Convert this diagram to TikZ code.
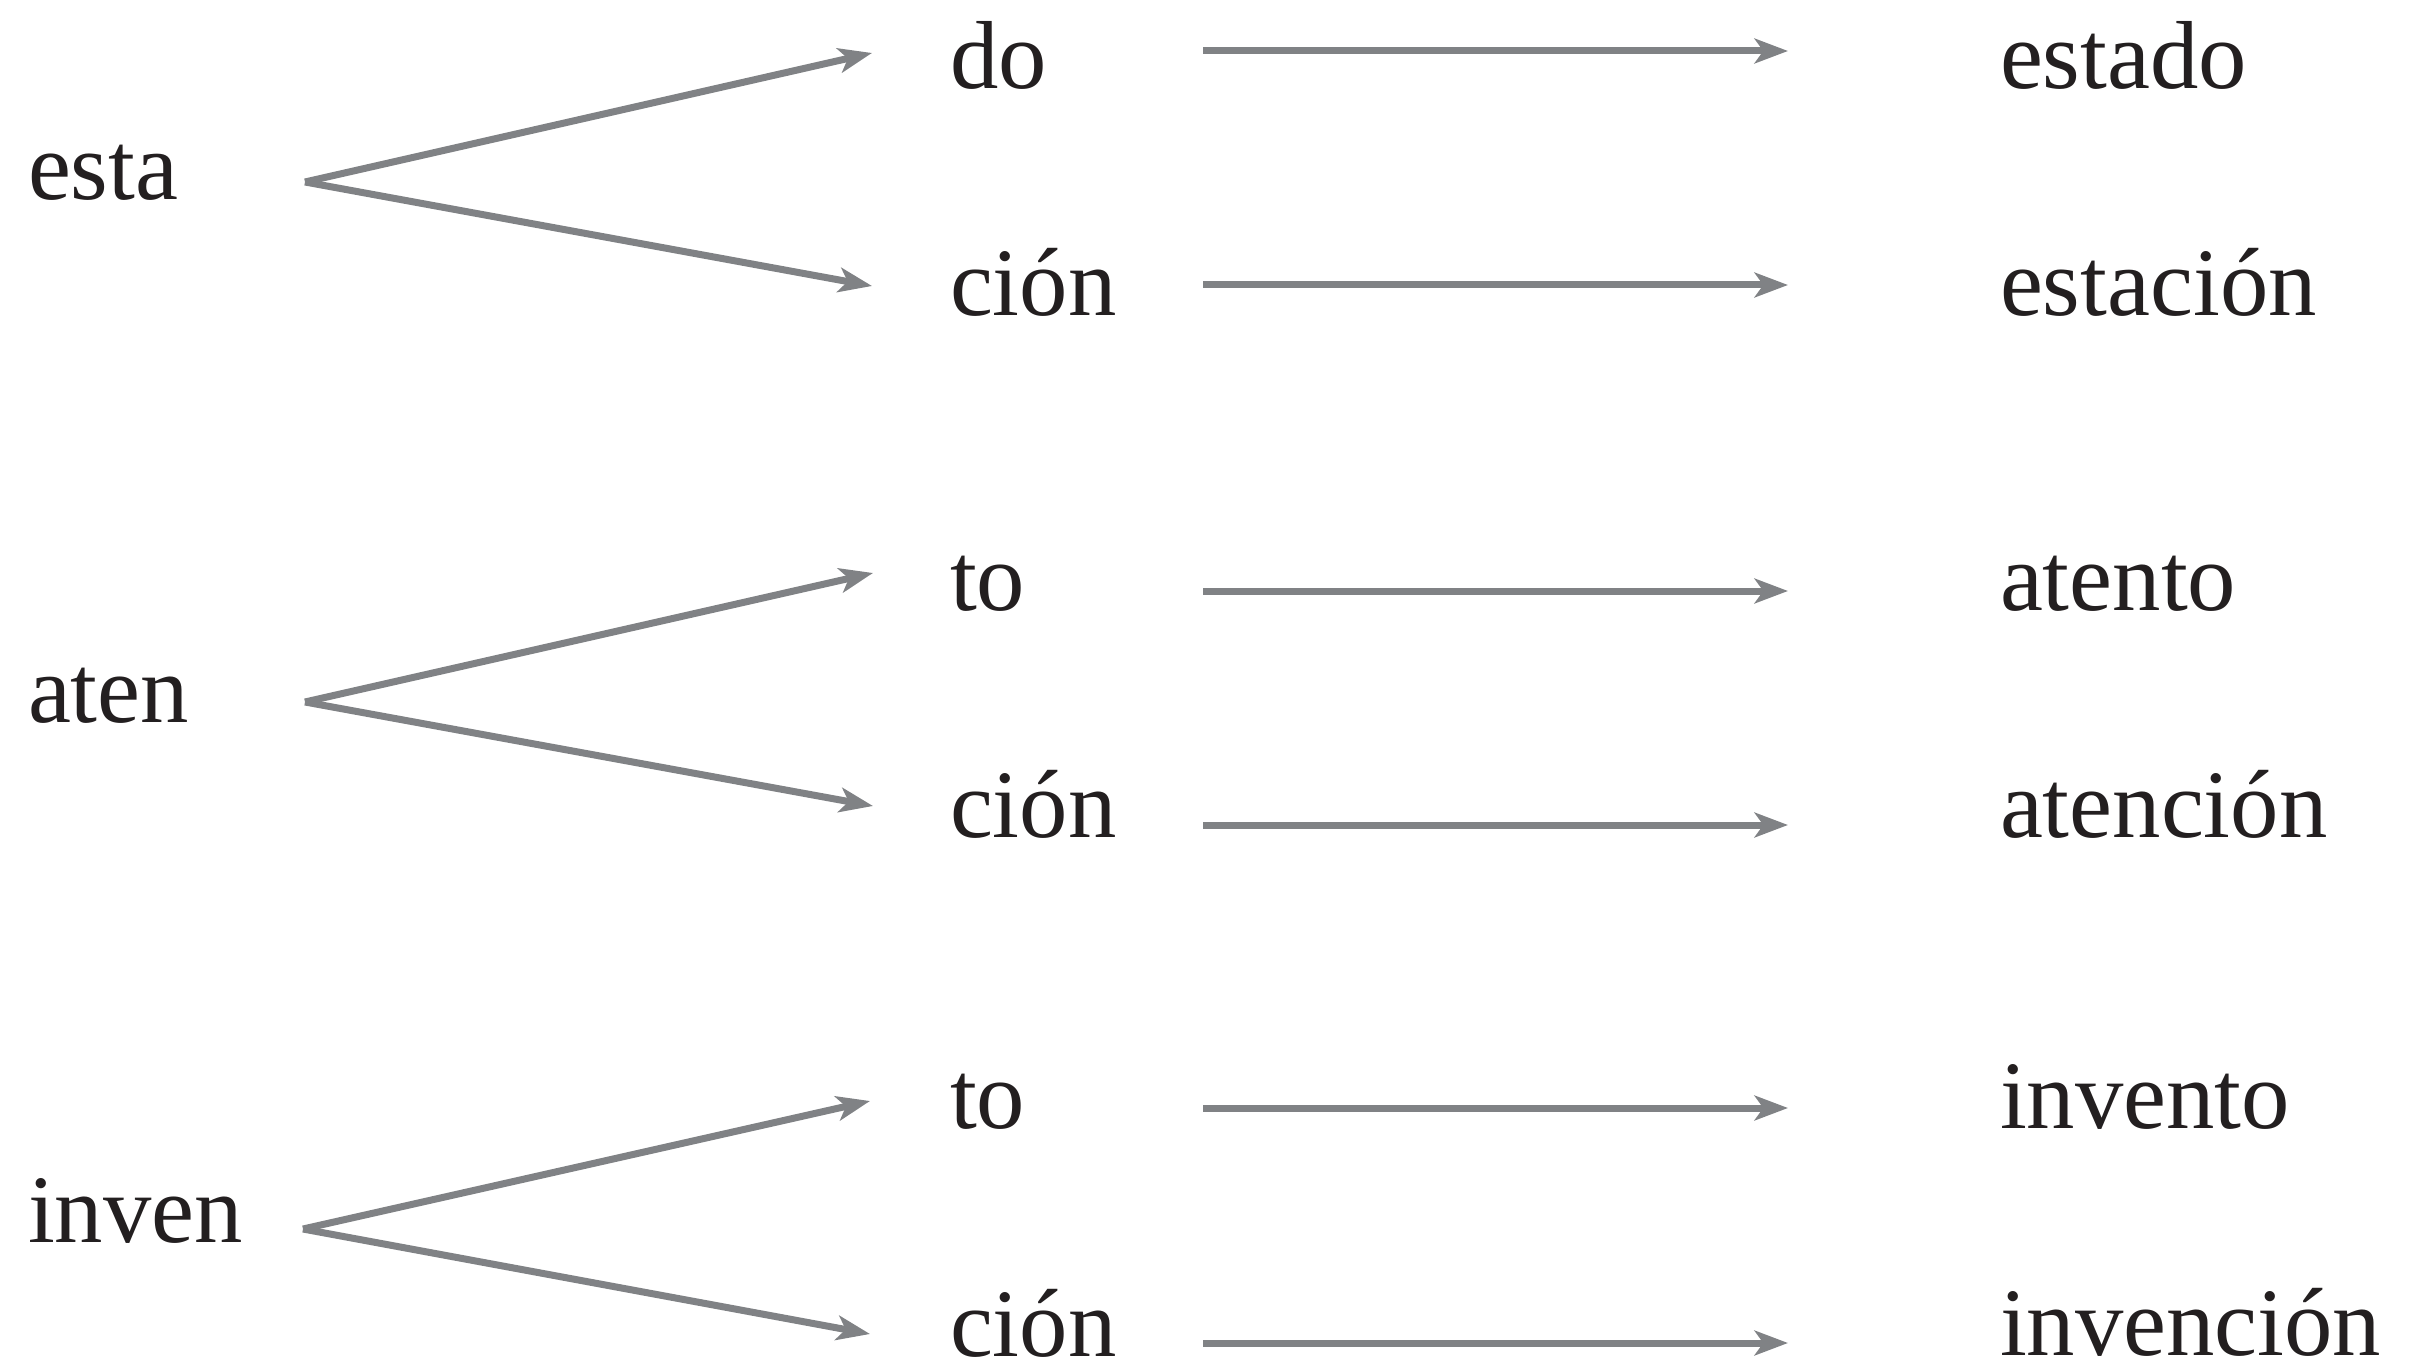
\documentclass[tikz,border=0pt]{standalone}
\usepackage{fontspec}
\setmainfont{Liberation Serif}
\usetikzlibrary{arrows.meta}
\definecolor{arrowgrey}{HTML}{808285}
\definecolor{inkblack}{HTML}{231F20}
\tikzset{
  word/.style={anchor=base west, inner sep=0pt, outer sep=0pt, text=inkblack,
    font=\fontsize{29}{34}\selectfont},
  conn/.style={draw=arrowgrey, line width=2.1pt,
    -{Stealth[length=10pt, width=7.4pt, inset=2.6pt]}}
}
\begin{document}
\begin{tikzpicture}[x=0.3pt, y=-0.3pt]
\useasboundingbox (0,0) rectangle (2416,1367);
% left stems
\node[word] (esta) at (28,200) {esta};
\node[word] (aten) at (28,722) {aten};
\node[word] (inven) at (28,1242) {inven};
% middle suffixes
\node[word] (m1) at (950,89) {do};
\node[word] (m2) at (950,316) {ción};
\node[word] (m3) at (950,610) {to};
\node[word] (m4) at (950,837) {ción};
\node[word] (m5) at (950,1128) {to};
\node[word] (m6) at (950,1356) {ción};
% right words
\node[word] (r1) at (2000,89) {estado};
\node[word] (r2) at (2000,316) {estación};
\node[word] (r3) at (2000,610) {atento};
\node[word] (r4) at (2000,837) {atención};
\node[word] (r5) at (2000,1128) {invento};
\node[word] (r6) at (2000,1355) {invención};
% connector end points
\coordinate (a1) at (305,182);
\coordinate (a2) at (305,702);
\coordinate (a3) at (303,1229);
\coordinate (t1) at (872,53);
\coordinate (t2) at (872,286);
\coordinate (t3) at (873,573);
\coordinate (t4) at (873,806);
\coordinate (t5) at (870,1101);
\coordinate (t6) at (870,1334);
\coordinate (s1) at (1203,51);   \coordinate (e1) at (1788,51);
\coordinate (s2) at (1203,285);  \coordinate (e2) at (1788,285);
\coordinate (s3) at (1203,591);  \coordinate (e3) at (1788,591);
\coordinate (s4) at (1203,825);  \coordinate (e4) at (1788,825);
\coordinate (s5) at (1203,1108); \coordinate (e5) at (1788,1108);
\coordinate (s6) at (1203,1343); \coordinate (e6) at (1788,1343);
% diverging arrows
\draw[conn] (a1) -- (t1);
\draw[conn] (a1) -- (t2);
\draw[conn] (a2) -- (t3);
\draw[conn] (a2) -- (t4);
\draw[conn] (a3) -- (t5);
\draw[conn] (a3) -- (t6);
% horizontal arrows
\draw[conn] (s1) -- (e1);
\draw[conn] (s2) -- (e2);
\draw[conn] (s3) -- (e3);
\draw[conn] (s4) -- (e4);
\draw[conn] (s5) -- (e5);
\draw[conn] (s6) -- (e6);
\end{tikzpicture}
\end{document}
